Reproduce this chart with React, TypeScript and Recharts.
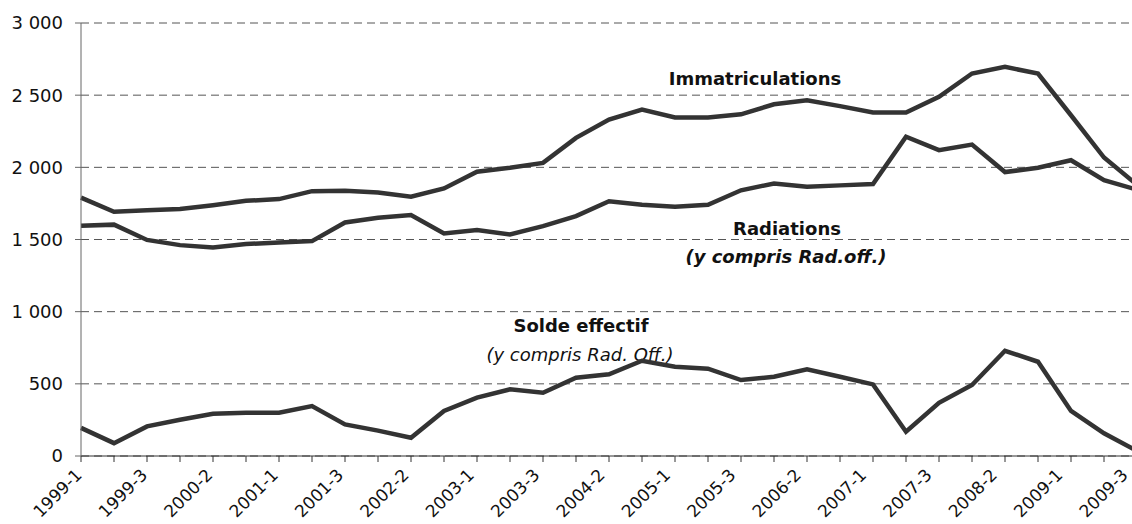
import { LineChart, Line, XAxis, YAxis, CartesianGrid } from "recharts";

const periods = [
  "1999-1", "1999-2", "1999-3", "2000-1", "2000-2", "2000-3", "2001-1", "2001-2", "2001-3",
  "2002-1", "2002-2", "2002-3", "2003-1", "2003-2", "2003-3", "2004-1", "2004-2", "2004-3",
  "2005-1", "2005-2", "2005-3", "2006-1", "2006-2", "2006-3", "2007-1", "2007-2", "2007-3",
  "2008-1", "2008-2", "2008-3", "2009-1", "2009-2", "2009-3",
];

const immatriculations = [
  1790, 1692, 1702, 1712, 1738, 1768, 1780, 1835, 1837, 1826, 1796, 1854, 1969, 1997, 2031, 2204, 2331,
  2400, 2345, 2345, 2367, 2437, 2465, 2424, 2380, 2380, 2488, 2650, 2696, 2650, 2361, 2068, 1880,
];

const radiations = [
  1595, 1603, 1497, 1461, 1445, 1468, 1480, 1489, 1618, 1650, 1670, 1542, 1565, 1535, 1593, 1662, 1765,
  1740, 1727, 1740, 1841, 1888, 1865, 1875, 1884, 2212, 2119, 2158, 1967, 1997, 2049, 1911, 1845,
];

const solde = [
  195, 89, 205, 251, 293, 300, 300, 346, 219, 176, 126, 312, 404, 462, 438, 542, 566,
  660, 618, 605, 526, 549, 600, 549, 496, 168, 369, 492, 729, 653, 312, 157, 35,
];

const yTicks = [0, 500, 1000, 1500, 2000, 2500, 3000];

const data = periods.map((p, i) => ({
  period: p,
  immat: immatriculations[i],
  rad: radiations[i],
  solde: solde[i],
}));

const FONT = "'DejaVu Sans', sans-serif";
const LINE = "#333333";

const fmt = (v: number) => (v >= 1000 ? `${Math.floor(v / 1000)} ${String(v % 1000).padStart(3, "0")}` : String(v));

// only every second period gets a label, but every period keeps its tick mark.
// labels drift slightly left towards the right end so the last one stays inside the frame
const PeriodTick = (props: any) => {
  const { x, payload, index } = props;
  if (index % 2 !== 0) return <g />;
  const ax = x + 2 - (index / (periods.length - 1)) * 10;
  const ay = 476;
  return (
    <text
      x={ax}
      y={ay}
      textAnchor="end"
      transform={`rotate(-45, ${ax}, ${ay})`}
      fontFamily={FONT}
      fontSize={17}
      fill="#111"
    >
      {payload.value}
    </text>
  );
};

export default function App() {
  return (
    <div style={{ position: "absolute", left: 0, top: 0, width: 1132, height: 524, overflow: "hidden", background: "#fff" }}>
      <LineChart width={1160} height={524} data={data} margin={{ top: 23, right: 23, bottom: 0, left: 0 }}>
        <CartesianGrid vertical={false} stroke="#555" strokeDasharray="8 5" />
        <XAxis
          dataKey="period"
          interval={0}
          height={68}
          tickSize={6}
          tick={<PeriodTick />}
          axisLine={{ stroke: "#333" }}
          tickLine={{ stroke: "#333" }}
        />
        <YAxis
          width={81}
          domain={[0, 3000]}
          ticks={yTicks}
          tickFormatter={fmt}
          tickSize={6}
          tickMargin={12}
          axisLine={{ stroke: "#666" }}
          tickLine={{ stroke: "#666" }}
          tick={{ fill: "#111", fontSize: 18, fontFamily: FONT }}
        />
        <Line dataKey="immat" stroke={LINE} strokeWidth={4.5} dot={false} isAnimationActive={false} />
        <Line dataKey="rad" stroke={LINE} strokeWidth={4.5} dot={false} isAnimationActive={false} />
        <Line dataKey="solde" stroke={LINE} strokeWidth={4.5} dot={false} isAnimationActive={false} />
        <text x={755} y={85} textAnchor="middle" fontFamily={FONT} fontSize={18} fontWeight="bold" fill="#111">
          Immatriculations
        </text>
        <text x={787} y={235} textAnchor="middle" fontFamily={FONT} fontSize={18} fontWeight="bold" fill="#111">
          Radiations
        </text>
        <text x={786} y={263} textAnchor="middle" fontFamily={FONT} fontSize={18} fontWeight="bold" fontStyle="italic" fill="#111">
          (y compris Rad.off.)
        </text>
        <text x={581} y={332} textAnchor="middle" fontFamily={FONT} fontSize={18} fontWeight="bold" fill="#111">
          Solde effectif
        </text>
        <text x={580} y={361} textAnchor="middle" fontFamily={FONT} fontSize={18} fontStyle="italic" fill="#111">
          (y compris Rad. Off.)
        </text>
      </LineChart>
    </div>
  );
}
